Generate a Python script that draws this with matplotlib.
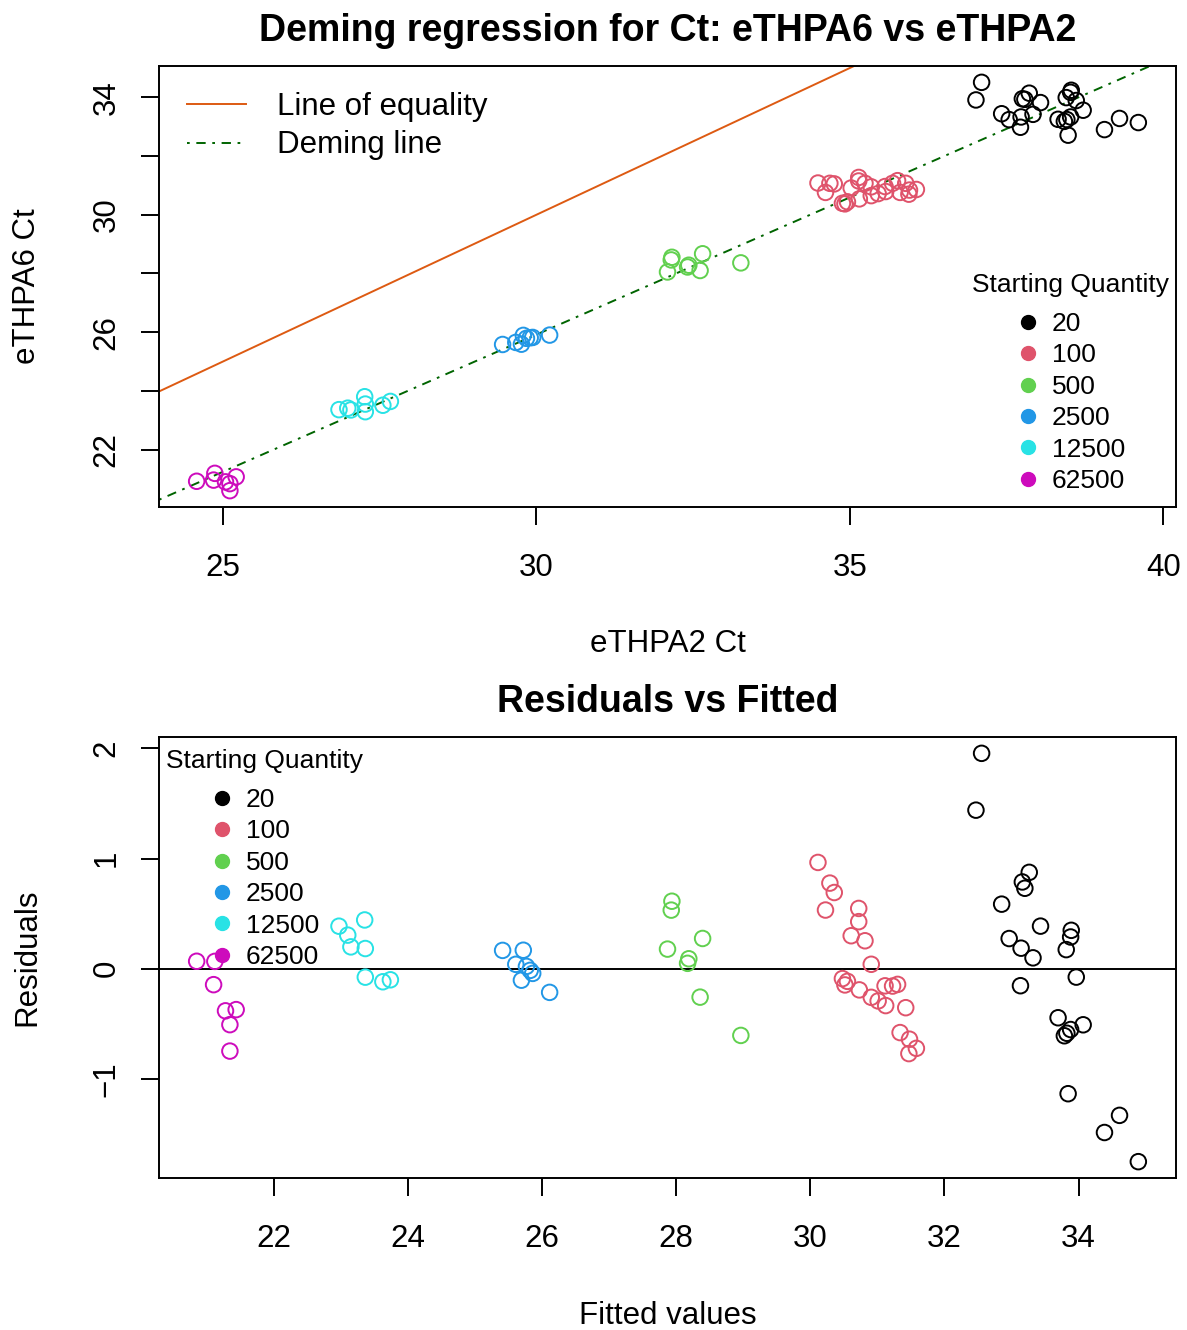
import matplotlib.pyplot as plt
from matplotlib.lines import Line2D
import numpy as np

plt.rcParams['font.family'] = ['Liberation Sans', 'DejaVu Sans']

# starting quantities and R palette colours
quantities = ["20", "100", "500", "2500", "12500", "62500"]
colors = ["#000000", "#DF536B", "#61D04F", "#2297E6", "#28E2E5", "#CD0BBC"]

# Ct values, one list per starting quantity
ethpa2_ct = [
    [37.10, 37.01, 37.86, 37.75, 37.79, 37.42, 38.04, 38.53, 38.52, 37.54, 37.73, 38.45,
     37.92, 38.61, 37.72, 38.32, 38.72, 38.52, 38.46, 38.42, 38.48, 39.30, 39.06, 39.60],
    [34.49, 34.68, 34.75, 34.61, 35.14, 35.14, 35.02, 35.24, 35.34, 34.88, 34.96, 34.92,
     35.15, 35.34, 35.45, 35.57, 35.56, 35.68, 35.76, 35.89, 35.80, 35.95, 36.06, 35.94],
    [32.16, 32.15, 32.65, 32.09, 32.43, 32.41, 32.61, 33.26],
    [29.46, 29.79, 29.67, 29.90, 29.94, 29.76, 30.21, 29.84],
    [26.85, 27.26, 26.99, 27.04, 27.27, 27.27, 27.55, 27.67],
    [24.58, 24.87, 24.85, 25.04, 25.21, 25.11, 25.11],
]
ethpa6_ct = [
    [34.51, 33.91, 34.14, 33.95, 33.93, 33.44, 33.82, 34.24, 34.17, 33.24, 33.33, 33.99,
     33.42, 33.89, 32.98, 33.25, 33.56, 33.33, 33.24, 33.18, 32.71, 33.28, 32.90, 33.14],
    [31.08, 31.07, 31.05, 30.76, 31.27, 31.15, 30.91, 31.07, 30.95, 30.39, 30.44, 30.37,
     30.54, 30.65, 30.72, 30.79, 30.96, 31.07, 31.16, 31.07, 30.76, 30.84, 30.86, 30.70],
    [28.55, 28.46, 28.67, 28.05, 28.28, 28.22, 28.10, 28.36],
    [25.58, 25.89, 25.65, 25.81, 25.82, 25.59, 25.90, 25.79],
    [23.36, 23.80, 23.41, 23.35, 23.55, 23.29, 23.51, 23.64],
    [20.92, 21.19, 20.96, 20.90, 21.07, 20.84, 20.60],
]

# Deming fit
intercept = -2.123
slope = 0.9347

FS = 22.5
FS_LEG = 19
LW = 1.4
DOTDASH = (0, (1.4, 3.4, 4.8, 3.4))


def r_lims(v):
    lo, hi = np.min(v), np.max(v)
    d = (hi - lo) * 0.04
    return lo - d, hi + d


def style_axes(ax):
    for s in ax.spines.values():
        s.set_linewidth(LW)
    ax.tick_params(direction='out', length=13, width=LW, labelsize=FS)
    ax.tick_params(axis='x', pad=20)
    ax.tick_params(axis='y', pad=14, labelrotation=90)
    for lab in ax.get_yticklabels():
        lab.set_va('center')


def quantity_legend(ax, x, y, tx, ty):
    handles = [Line2D([], [], marker='o', ls='', color=c, markersize=10) for c in colors]
    leg = ax.legend(handles, quantities, fontsize=FS_LEG, loc='upper left',
                    bbox_to_anchor=(x, y), frameon=False, borderpad=0, borderaxespad=0,
                    handlelength=0.8, handletextpad=0.5, labelspacing=0.28)
    ax.text(tx, ty, 'Starting Quantity', fontsize=FS_LEG, ha='center', va='center',
            transform=ax.transAxes)
    return leg


fig = plt.figure(figsize=(11.87, 13.30), dpi=100)
ax1 = fig.add_axes([159 / 1187, 1 - 507 / 1330, 1017 / 1187, 441 / 1330])
ax2 = fig.add_axes([159 / 1187, 1 - 1178 / 1330, 1017 / 1187, 441 / 1330])

all_x = np.concatenate([np.array(v) for v in ethpa2_ct])
all_y = np.concatenate([np.array(v) for v in ethpa6_ct])
all_fit = intercept + slope * all_x
all_res = all_y - all_fit

# ---- top: Deming regression ----
for xs, ys, c in zip(ethpa2_ct, ethpa6_ct, colors):
    ax1.scatter(xs, ys, s=125, facecolors='none', edgecolors=c, linewidths=LW, zorder=3)

ax1.axline((0, 0), slope=1, color='#DD5A12', lw=LW)
ax1.axline((0, intercept), slope=slope, color='#006400', lw=LW, ls=DOTDASH)
ax1.set_xlim(r_lims(all_x))
ax1.set_ylim(r_lims(all_y))
ax1.set_xticks([25, 30, 35, 40])
ax1.set_yticks([22, 24, 26, 28, 30, 32, 34])
ax1.set_yticklabels(['22', '', '26', '', '30', '', '34'])
style_axes(ax1)
ax1.set_xlabel('eTHPA2 Ct', fontsize=FS)
ax1.xaxis.set_label_coords(0.5, (507 - 644) / 441)
ax1.xaxis.label.set_va('center')
ax1.set_ylabel('eTHPA6 Ct', fontsize=FS)
ax1.yaxis.set_label_coords((27 - 159) / 1017, 0.5)
ax1.yaxis.label.set_va('center')

line_handles = [Line2D([], [], color='#DD5A12', lw=LW),
                Line2D([], [], color='#006400', lw=LW, ls=DOTDASH)]
leg1 = ax1.legend(line_handles, ['Line of equality', 'Deming line'], loc='upper left',
                  bbox_to_anchor=(28 / 1017, (507 - 91.7) / 441), frameon=False,
                  fontsize=FS, handlelength=1.9, handletextpad=0.97,
                  borderpad=0, borderaxespad=0, labelspacing=0.28)
ax1.add_artist(leg1)

quantity_legend(ax1, (1017.5 - 159) / 1017, (507 - 312) / 441,
                (1071 - 159) / 1017, (507 - 285) / 441)

# ---- bottom: residuals vs fitted ----
for xs, ys, c in zip(ethpa2_ct, ethpa6_ct, colors):
    fit = intercept + slope * np.array(xs)
    ax2.scatter(fit, np.array(ys) - fit, s=125, facecolors='none', edgecolors=c,
                linewidths=LW, zorder=3)
ax2.axhline(0, color='black', lw=LW)
ax2.set_xlim(r_lims(all_fit))
ax2.set_ylim(r_lims(all_res))
ax2.set_xticks([22, 24, 26, 28, 30, 32, 34])
ax2.set_yticks([-1, 0, 1, 2])
ax2.set_yticklabels(['\u22121', '0', '1', '2'])
style_axes(ax2)
ax2.set_xlabel('Fitted values', fontsize=FS)
ax2.xaxis.set_label_coords(0.5, (1178 - 1316) / 441)
ax2.xaxis.label.set_va('center')
ax2.set_ylabel('Residuals', fontsize=FS)
ax2.yaxis.set_label_coords((27 - 159) / 1017, 0.5)
ax2.yaxis.label.set_va('center')

quantity_legend(ax2, (211.5 - 159) / 1017, (1178 - 788) / 441,
                (265 - 159) / 1017, (1178 - 761) / 441)

fig.text(667.5 / 1187, 1 - 31 / 1330, 'Deming regression for Ct: eTHPA6 vs eTHPA2',
         fontsize=FS * 1.2, fontweight='bold', ha='center', va='center')
fig.text(667.5 / 1187, 1 - 702 / 1330, 'Residuals vs Fitted',
         fontsize=FS * 1.2, fontweight='bold', ha='center', va='center')

fig.savefig('out.png', dpi=100)
